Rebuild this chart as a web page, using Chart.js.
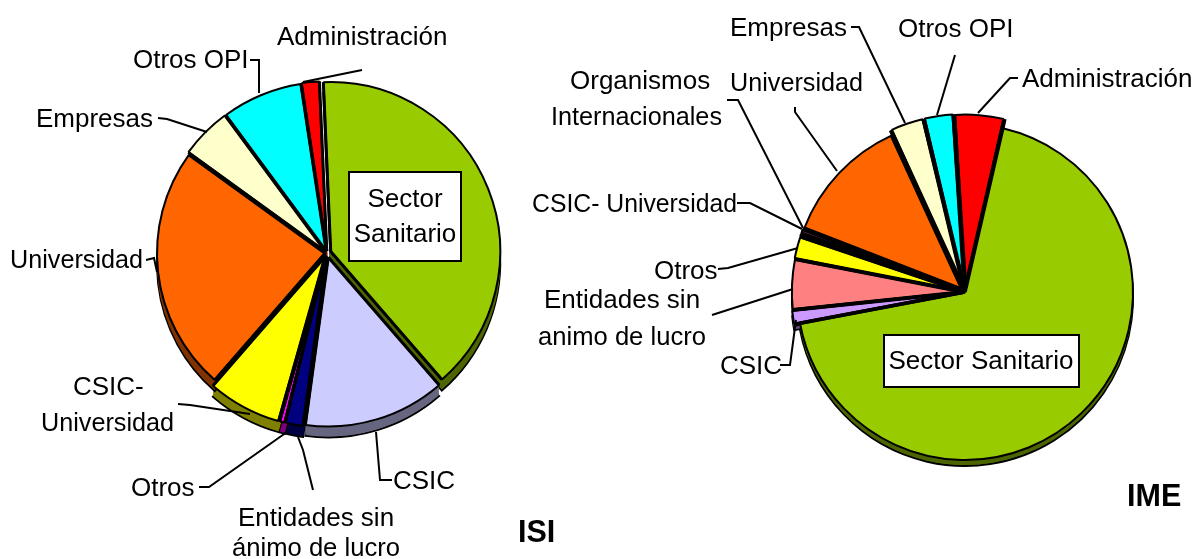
<!DOCTYPE html>
<html>
<head>
<meta charset="utf-8">
<title>ISI / IME</title>
<script src="https://cdn.jsdelivr.net/npm/chart.js@4"></script>
<style>
    html, body { margin: 0; padding: 0; background: #fff; }
    #wrap { position: relative; width: 1192px; height: 559px; overflow: hidden; }
    canvas { position: absolute; left: 0; top: 0; }
</style>
</head>
<body>
<div id="wrap">
    <canvas id="isiChart" width="1192" height="559"></canvas>
    <canvas id="imeChart" width="1192" height="559"></canvas>
</div>
<script>
// ISI pie, clockwise from the top
const isiCategories = ["Sector Sanitario", "CSIC", "Entidades sin ánimo de lucro", "Otros", "CSIC-Universidad", "Universidad", "Empresas", "Otros OPI", "Administración"];
const isiValues = [39.2, 13.5, 1.7, 0.5, 7.0, 23.5, 4.9, 7.7, 1.7];

// IME pie, clockwise from the top
const imeCategories = ["Sector Sanitario", "CSIC", "Entidades sin animo de lucro", "Otros", "CSIC- Universidad", "Organismos Internacionales", "Universidad", "Empresas", "Otros OPI", "Administración"];
const imeValues = [68.0, 1.3, 4.7, 2.1, 0.3, 0.4, 12.2, 3.1, 2.7, 4.6];

const isiColors = ["#99CC00", "#CCCCFF", "#000080", "#FF00FF", "#FFFF00", "#FF6600", "#FFFFCC", "#00FFFF", "#FF0000"];
const isiWalls = ["#4D6600", "#666680", "#000040", "#800080", "#808000", "#803300", "#808066", "#008080", "#800000"];
const isiOffsets = [16, 18, 14, 14, 18, 8, 8, 8, 8];

const imeColors = ["#99CC00", "#CC99FF", "#FF8080", "#FFFF00", "#808000", "#993366", "#FF6600", "#FFFFCC", "#00FFFF", "#FF0000"];
const imeWalls = ["#4D6600", "#664D80", "#804040", "#808000", "#404000", "#4D1A33", "#803300", "#808066", "#008080", "#800000"];
const imeOffsets = [0, 12, 12, 12, 12, 12, 16, 22, 22, 22];

const FONT = "Liberation Sans";

// text: [string, x, baseline, max width]; leader: polyline points
const isiLabels = [
    { text: [["Administración", 277, 45]], leader: [[362, 70], [303, 82]] },
    { text: [["Otros OPI", 133, 68]], leader: [[250, 60], [259, 60], [259, 93]] },
    { text: [["Empresas", 36, 127]], leader: [[158, 118], [167, 119], [207, 132]] },
    { text: [["Universidad", 10, 268, 133]], leader: [[146, 260], [154, 258], [157, 272]] },
    { text: [["CSIC-", 73, 395], ["Universidad", 41, 431, 133]], leader: [[178, 404], [190, 405], [250, 414]] },
    { text: [["Otros", 131, 496]], leader: [[199, 487], [209, 487], [287, 432]] },
    { text: [["Entidades sin", 238, 526], ["ánimo de lucro", 232, 556, 168]], leader: [[313, 490], [303, 450], [298, 437]] },
    { text: [["CSIC", 393, 489]], leader: [[392, 480], [380, 480], [376, 432]] }
];
const isiBox = { x: 349, y: 172, w: 112, h: 89, text: [["Sector", 405, 207], ["Sanitario", 405, 242]] };
const isiTitle = ["ISI", 518, 542];

const imeLabels = [
    { text: [["Empresas", 730, 36]], leader: [[851, 27], [859, 27], [905, 123]] },
    { text: [["Otros OPI", 898, 37]], leader: [[955, 55], [937, 115]] },
    { text: [["Administración", 1022, 87]], leader: [[1018, 78], [1010, 78], [978, 113]] },
    { text: [["Organismos", 570, 89], ["Internacionales", 551, 125, 171]], leader: [[727, 100], [738, 100], [803, 228]] },
    { text: [["Universidad", 730, 91, 133]], leader: [[795, 107], [795, 112], [837, 171]] },
    { text: [["CSIC- Universidad", 532, 212, 205]], leader: [[737, 203], [750, 203], [802, 229]] },
    { text: [["Otros", 654, 279]], leader: [[718, 269], [728, 268], [798, 248]] },
    { text: [["Entidades sin", 544, 308], ["animo de lucro", 538, 345, 168]], leader: [[712, 315], [793, 289]] },
    { text: [["CSIC", 720, 374]], leader: [[780, 365], [790, 365], [796, 320]] }
];
const imeBox = { x: 884, y: 335, w: 195, h: 52, text: [["Sector Sanitario", 981, 369]] };
const imeTitle = ["IME", 1127, 506];

// offset translation and radius growth the same way ArcElement.draw does it
function arcGeometry(arc) {
    const offset = (arc.options.offset || 0) / 4;
    const mid = (arc.startAngle + arc.endAngle) / 2;
    const fix = 1 - Math.sin(Math.min(Math.PI, arc.circumference));
    return {
        x: arc.x + Math.cos(mid) * offset,
        y: arc.y + Math.sin(mid) * offset,
        r: arc.outerRadius + offset * fix
    };
}

function wedgePath(ctx, arc, g, dy) {
    ctx.beginPath();
    ctx.moveTo(g.x, g.y + dy);
    ctx.arc(g.x, g.y + dy, g.r, arc.startAngle, arc.endAngle);
    ctx.closePath();
}

function strokeEdges(ctx, arcs, width) {
    ctx.strokeStyle = "#000";
    ctx.lineWidth = width;
    arcs.forEach(arc => {
        const g = arcGeometry(arc);
        [arc.startAngle, arc.endAngle].forEach(a => {
            ctx.beginPath();
            ctx.moveTo(g.x, g.y);
            ctx.lineTo(g.x + Math.cos(a) * g.r, g.y + Math.sin(a) * g.r);
            ctx.stroke();
        });
    });
}

// 3D side walls under the slices, heavy black dividers under and over them
const wallsPlugin = {
    id: "walls",
    beforeDatasetsDraw(chart, args, opts) {
        const ctx = chart.ctx;
        const arcs = chart.getDatasetMeta(0).data;
        ctx.save();
        arcs.forEach((arc, i) => {
            const g = arcGeometry(arc);
            wedgePath(ctx, arc, g, opts.depth);
            ctx.fillStyle = opts.colors[i];
            ctx.strokeStyle = "#000";
            ctx.lineWidth = 2;
            ctx.fill();
            ctx.stroke();
            for (let d = opts.depth - 1; d > 0; d--) {
                wedgePath(ctx, arc, g, d);
                ctx.fill();
            }
        });
        if (opts.underEdge) strokeEdges(ctx, arcs, opts.underEdge);
        ctx.restore();
    },
    afterDatasetsDraw(chart, args, opts) {
        const ctx = chart.ctx;
        ctx.save();
        strokeEdges(ctx, chart.getDatasetMeta(0).data, opts.overEdge);
        ctx.restore();
    }
};

// leader lines, category labels, the white box and the chart name
const labelsPlugin = {
    id: "pieLabels",
    afterDraw(chart, args, opts) {
        const ctx = chart.ctx;
        const put = t => t[3] ? ctx.fillText(t[0], t[1], t[2], t[3]) : ctx.fillText(t[0], t[1], t[2]);
        ctx.save();
        ctx.strokeStyle = "#000";
        ctx.fillStyle = "#000";
        ctx.lineWidth = 2;
        ctx.font = "26px '" + FONT + "'";
        ctx.textBaseline = "alphabetic";
        opts.labels.forEach(label => {
            ctx.beginPath();
            label.leader.forEach((p, i) => i ? ctx.lineTo(p[0], p[1]) : ctx.moveTo(p[0], p[1]));
            ctx.stroke();
            label.text.forEach(put);
        });

        const box = opts.box;
        ctx.fillStyle = "#fff";
        ctx.fillRect(box.x, box.y, box.w, box.h);
        ctx.strokeRect(box.x, box.y, box.w, box.h);
        ctx.fillStyle = "#000";
        ctx.textAlign = "center";
        box.text.forEach(put);

        ctx.textAlign = "left";
        ctx.font = "bold 30.5px '" + FONT + "'";
        put(opts.title);
        ctx.restore();
    }
};

function makePie(id, categories, values, colors, settings) {
    const ctx = document.getElementById(id).getContext("2d");
    return new Chart(ctx, {
        type: "pie",
        data: {
            labels: categories,
            datasets: [{
                data: values,
                backgroundColor: colors,
                borderColor: "#000",
                borderWidth: 2,
                offset: settings.offsets
            }]
        },
        options: {
            responsive: false,
            animation: false,
            rotation: settings.rotation,
            radius: settings.radius,
            layout: { padding: settings.padding },
            plugins: {
                legend: { display: false },
                tooltip: { enabled: false },
                walls: { depth: settings.depth, colors: settings.walls, underEdge: settings.underEdge, overEdge: settings.overEdge },
                pieLabels: { labels: settings.labels, box: settings.box, title: settings.title }
            }
        },
        plugins: [wallsPlugin, labelsPlugin]
    });
}

makePie("isiChart", isiCategories, isiValues, isiColors, {
    offsets: isiOffsets, walls: isiWalls, rotation: -2.5, radius: 168, depth: 11, underEdge: 0, overEdge: 3,
    padding: { left: 0, right: 538, top: 0, bottom: 53 },
    labels: isiLabels, box: isiBox, title: isiTitle
});

makePie("imeChart", imeCategories, imeValues, imeColors, {
    offsets: imeOffsets, walls: imeWalls, rotation: 13, radius: 168, depth: 6, underEdge: 5, overEdge: 3.5,
    padding: { left: 738, right: 0, top: 25, bottom: 0 },
    labels: imeLabels, box: imeBox, title: imeTitle
});
</script>
</body>
</html>
